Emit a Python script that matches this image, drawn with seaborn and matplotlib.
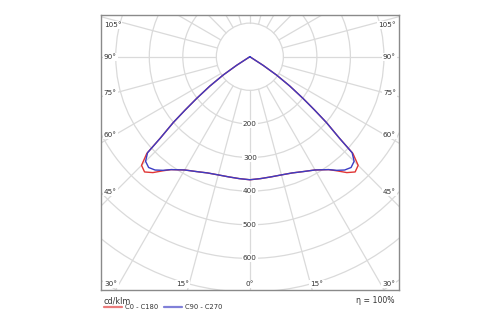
import numpy as np
import pandas as pd
import matplotlib
matplotlib.use("Agg")
import matplotlib.pyplot as plt
from matplotlib.patches import Circle
import seaborn as sns

# ---------------- data ----------------
gamma_deg = [0, 5, 10, 15, 20, 25, 30, 35, 37.5, 40, 42.5, 45, 46.9, 47.8, 49.4, 50.6,
             52.0, 53.8, 55.6, 57.1, 58.5, 60, 70, 80, 90]
c0_c180 = [366, 364, 363, 364, 368, 377, 389, 410, 428, 450, 465, 457, 421, 361, 301, 250,
           201, 148, 97, 47, 0, 0, 0, 0, 0]
c90_c270 = [366, 364, 363, 364, 368, 377, 389, 410, 426, 440, 447, 440, 418, 361, 301, 250,
            201, 148, 97, 47, 0, 0, 0, 0, 0]
series_names = ["C0 - C180", "C90 - C270"]
series_colors = ["#e03535", "#3c3cc4"]

ring_values = [100, 200, 300, 400, 500, 600, 700, 800]
ring_labels = [200, 300, 400, 500, 600]
side_angle_labels = [45, 60, 75, 90, 105]
bottom_angle_labels = [0, 15, 30]
unit_label = "cd/klm"
eta_label = "\u03b7 = 100%"

# ---------------- build table ----------------
rows = []
g = np.radians(np.array(gamma_deg, dtype=float))
for name, vals in zip(series_names, [c0_c180, c90_c270]):
    r = np.array(vals, dtype=float)
    # left half (C180 / C270), from large gamma to nadir
    for gi, ri in zip(g[::-1], r[::-1]):
        rows.append((name, -ri * np.sin(gi), -ri * np.cos(gi)))
    # right half (C0 / C90), from nadir to large gamma
    for gi, ri in zip(g[1:], r[1:]):
        rows.append((name, ri * np.sin(gi), -ri * np.cos(gi)))
df = pd.DataFrame(rows, columns=["series", "x", "y"])

# ---------------- figure ----------------
sns.set_theme(style="white")
plt.rcParams["font.family"] = ["DejaVu Sans"]
txt_color = "#333333"
grid_color = "#dadada"
fs_tick = 5.2

fig = plt.figure(figsize=(5.0, 3.25), dpi=100)
ax = fig.add_axes([0.2014, 0.1077, 0.5966, 0.846])
XL, XR, YB, YT = -445, 445, -694, 124
ax.set_xlim(XL, XR)
ax.set_ylim(YB, YT)

# grid circles
for rv in ring_values:
    ax.add_patch(Circle((0, 0), rv, fill=False, ec=grid_color, lw=0.9, zorder=1))
# radial grid lines every 15 degrees, starting at the inner circle
for a in range(0, 360, 15):
    ar = np.radians(a)
    ax.plot([ring_values[0] * np.sin(ar), 1200 * np.sin(ar)],
            [-ring_values[0] * np.cos(ar), -1200 * np.cos(ar)],
            color=grid_color, lw=0.9, zorder=1)

# curves
sns.lineplot(data=df, x="x", y="y", hue="series", hue_order=series_names,
             palette=series_colors, sort=False, estimator=None, linewidth=1.0,
             ax=ax, zorder=3)

# ring labels
box = dict(facecolor="white", edgecolor="none", pad=0.8)
lab_kw = dict(fontsize=fs_tick, color=txt_color, ha="center", va="center", zorder=4, bbox=box)
for rv in ring_labels:
    ax.text(0, -rv, str(rv), **lab_kw)

# side angle labels
xlab = 402.0
for a in side_angle_labels:
    ar = np.radians(a)
    yy = min(-xlab / np.tan(ar), YT - 30)
    ax.text(XL + 9, yy, f"{a}\u00b0", fontsize=fs_tick, color=txt_color, ha="left", va="center",
            zorder=4, bbox=box)
    ax.text(XR - 9, yy, f"{a}\u00b0", fontsize=fs_tick, color=txt_color, ha="right", va="center",
            zorder=4, bbox=box)

# bottom angle labels
ybot = -676
for a in bottom_angle_labels:
    if a == 0:
        ax.text(0, ybot, "0\u00b0", **lab_kw)
    else:
        xx = -ybot * np.tan(np.radians(a + 1.5))
        ax.text(-xx, ybot, f"{a}\u00b0", **lab_kw)
        ax.text(xx, ybot, f"{a}\u00b0", **lab_kw)

ax.set_xticks([])
ax.set_yticks([])
ax.set_xlabel("")
ax.set_ylabel("")
for s in ax.spines.values():
    s.set_color("#8a8a8a")
    s.set_linewidth(1.0)
    s.set_visible(True)

# legend below axes
sns.move_legend(ax, "upper left", bbox_to_anchor=(0.011, -0.052), ncol=2, frameon=False,
                title=None, fontsize=4.9, handlelength=2.7, handletextpad=0.4,
                columnspacing=0.85, borderpad=0, borderaxespad=0)
leg = ax.get_legend()
for h in leg.get_lines():
    h.set_linewidth(1.6)
    h.set_alpha(0.65)
for t in leg.get_texts():
    t.set_color(txt_color)

fig.text(104 / 500, 1 - 300.5 / 325, unit_label, fontsize=5.8, color=txt_color, ha="left", va="center")
fig.text(395 / 500, 1 - 300.5 / 325, eta_label, fontsize=5.6, color=txt_color, ha="right", va="center")

fig.savefig("out.png", dpi=100, facecolor="white")
